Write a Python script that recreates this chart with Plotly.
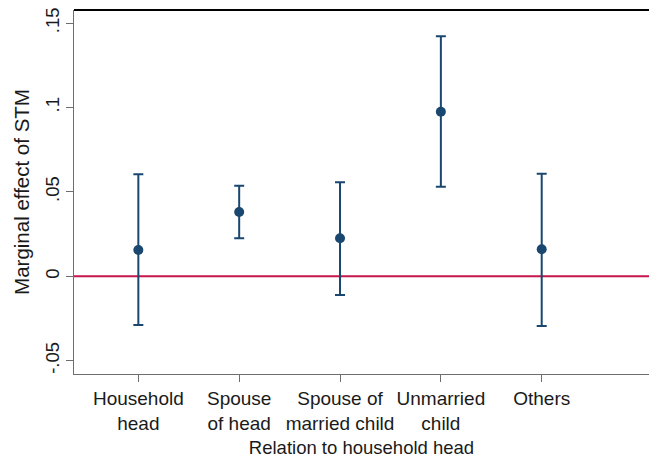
import plotly.graph_objects as go

# Marginal effect of STM by relation to household head, with 95% CIs
categories = ["Household<br>head", "Spouse<br>of head", "Spouse of<br>married child",
              "Unmarried<br>child", "Others"]
positions = [1, 2, 3, 4, 5]
estimate = [0.0156, 0.0381, 0.0225, 0.0975, 0.0160]
ci_upper = [0.0604, 0.0537, 0.0557, 0.1423, 0.0608]
ci_lower = [-0.0289, 0.0225, -0.0111, 0.0531, -0.0294]

y_tickvals = [-0.05, 0, 0.05, 0.1, 0.15]
y_ticktext = ["-.05", "0", ".05", ".1", ".15"]

NAVY = "#1a476f"
CRANBERRY = "#c4164c"
FONT = "Liberation Sans, Arial, sans-serif"

err_plus = [u - e for u, e in zip(ci_upper, estimate)]
err_minus = [e - l for e, l in zip(estimate, ci_lower)]

fig = go.Figure()

# reference line at zero
fig.add_shape(type="line", xref="paper", x0=0, x1=1, yref="y", y0=0, y1=0,
              line=dict(color=CRANBERRY, width=2), layer="below")

fig.add_trace(go.Scatter(
    x=positions, y=estimate, mode="markers",
    marker=dict(color=NAVY, size=10),
    error_y=dict(type="data", symmetric=False, array=err_plus, arrayminus=err_minus,
                 color=NAVY, thickness=2, width=5),
    showlegend=False,
))

# top frame line
fig.add_shape(type="line", xref="paper", x0=0, x1=1, yref="paper", y0=1, y1=1,
              line=dict(color="black", width=2))

fig.update_layout(
    width=649, height=466,
    margin=dict(l=74, r=0, t=10, b=92),
    paper_bgcolor="white", plot_bgcolor="white",
    font=dict(family=FONT, size=18.5, color="#1a1a1a"),
    xaxis=dict(
        range=[0.362, 6.064],
        tickmode="array", tickvals=positions, ticktext=categories,
        ticks="outside", ticklen=7, tickcolor="#6e6e6e", tickwidth=1,
        showline=True, linecolor="#6e6e6e", linewidth=1,
        showgrid=False, zeroline=False,
        tickfont=dict(size=19),
        title=dict(text="Relation to household head", font=dict(size=18.5), standoff=8),
    ),
    yaxis=dict(
        range=[-0.0579, 0.1578],
        tickmode="array", tickvals=y_tickvals, ticktext=y_ticktext,
        tickangle=-90,
        ticks="outside", ticklen=7, tickcolor="#6e6e6e", tickwidth=1,
        showline=True, linecolor="#6e6e6e", linewidth=1,
        showgrid=False, zeroline=False,
        tickfont=dict(size=18.5),
        title=dict(text="Marginal effect of STM", font=dict(size=20.5), standoff=6),
    ),
)

fig.write_html("out.html")
